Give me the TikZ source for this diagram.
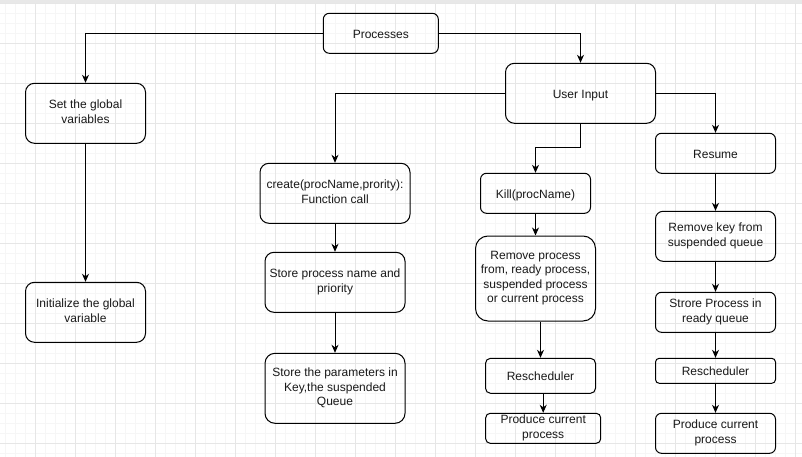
\documentclass[tikz,border=0pt]{standalone}
\usepackage{fontspec}
\setmainfont{Liberation Sans}
\usetikzlibrary{arrows.meta,calc}
\definecolor{minorgrid}{HTML}{F6F6F6}
\definecolor{majorgrid}{HTML}{E6E6E6}
\definecolor{topband}{HTML}{E8E8E8}
\newcommand{\dioStrut}{\rule[-3.04pt]{0pt}{16pt}}
\tikzset{
  bx/.style n args={3}{draw=black, line width=1pt, align=center, inner sep=0pt,
    minimum width=#1pt, minimum height=#2pt, rounded corners=#3pt,
    font=\fontsize{12}{14.3}\selectfont, text=black!90,
    execute at begin node={\dioStrut}, execute at end node={\dioStrut}},
  arr/.style={draw=black, line width=1pt, -{Stealth[length=8pt,width=7pt,inset=2.5pt]}},
}
\begin{document}
\begin{tikzpicture}[x=1pt,y=-1pt]
\useasboundingbox (0,0) rectangle (802,457);
\fill[white] (0,0) rectangle (802,457);
% grid
\foreach \i in {0,...,79} \draw[minorgrid, line width=0.8pt] ({5.7+10*\i},0) -- ({5.7+10*\i},457);
\foreach \j in {0,...,45} \draw[minorgrid, line width=0.8pt] (0,{3.3+10*\j}) -- (802,{3.3+10*\j});
\foreach \i in {0,...,19} \draw[majorgrid, line width=0.8pt] ({35.7+40*\i},0) -- ({35.7+40*\i},457);
\foreach \j in {0,...,11} \draw[majorgrid, line width=0.8pt] (0,{3.3+40*\j}) -- (802,{3.3+40*\j});
\fill[topband] (0,0) rectangle (802,3);

% nodes
\node[bx={115}{40}{6}] (proc) at (380.8,33.3) {Processes};
\node[bx={120}{60}{9}] (set) at (85.5,113.3) {Set the global\\variables};
\node[bx={120}{60}{9}] (init) at (85.5,312.3) {Initialize the global\\variable};
\node[bx={150}{60}{9}] (user) at (580.5,93.3) {User Input};
\node[bx={150}{60}{9}] (create) at (335,193.3) {create(procName,prority):\\Function call};
\node[bx={140}{60}{9}] (store1) at (335,282.3) {Store process name and\\priority};
\node[bx={140}{70}{10}] (store2) at (335,388.3) {Store the parameters in\\Key,the suspended\\Queue};
\node[bx={110}{40}{6}] (kill) at (535.5,193.3) {Kill(procName)};
\node[bx={120}{85}{12.5}] (remove) at (535.5,278.5) {Remove process\\from, ready process,\\suspended process\\or current process};
\node[bx={110}{35}{5}] (resched1) at (540.5,375.8) {Rescheduler};
\node[bx={115}{30}{4.5}] (produce1) at (543.2,428.3) {Produce current\\process};
\node[bx={120}{40}{6}] (resume) at (715.5,153.3) {Resume};
\node[bx={120}{50}{7.5}] (removekey) at (715.5,236.3) {Remove key from\\suspended queue};
\node[bx={120}{40}{6}] (strore) at (715.5,312.3) {Strore Process in\\ready queue};
\node[bx={120}{25}{3.75}] (resched2) at (715.5,370.8) {Rescheduler};
\node[bx={120}{40}{6}] (produce2) at (715.5,433.3) {Produce current\\process};

% connectors
\draw[arr] (proc.west) -| (set.north);
\draw[arr] (proc.east) -| (user.north);
\draw[arr] (set.south) -- (init.north);
\draw[arr] (user.west) -| (create.north);
\draw[arr] (user.south) |- ([yshift=25pt]kill.north) -- (kill.north);
\draw[arr] (user.east) -| (resume.north);
\draw[arr] (create.south) -- (store1.north);
\draw[arr] (store1.south) -- (store2.north);
\draw[arr] (kill.south) -- (remove.north);
\draw[arr] (resched1.north |- remove.south) -- (resched1.north);
\draw[arr] (produce1.north |- resched1.south) -- (produce1.north);
\draw[arr] (resume.south) -- (removekey.north);
\draw[arr] (removekey.south) -- (strore.north);
\draw[arr] (strore.south) -- (resched2.north);
\draw[arr] (resched2.south) -- (produce2.north);
\end{tikzpicture}
\end{document}
